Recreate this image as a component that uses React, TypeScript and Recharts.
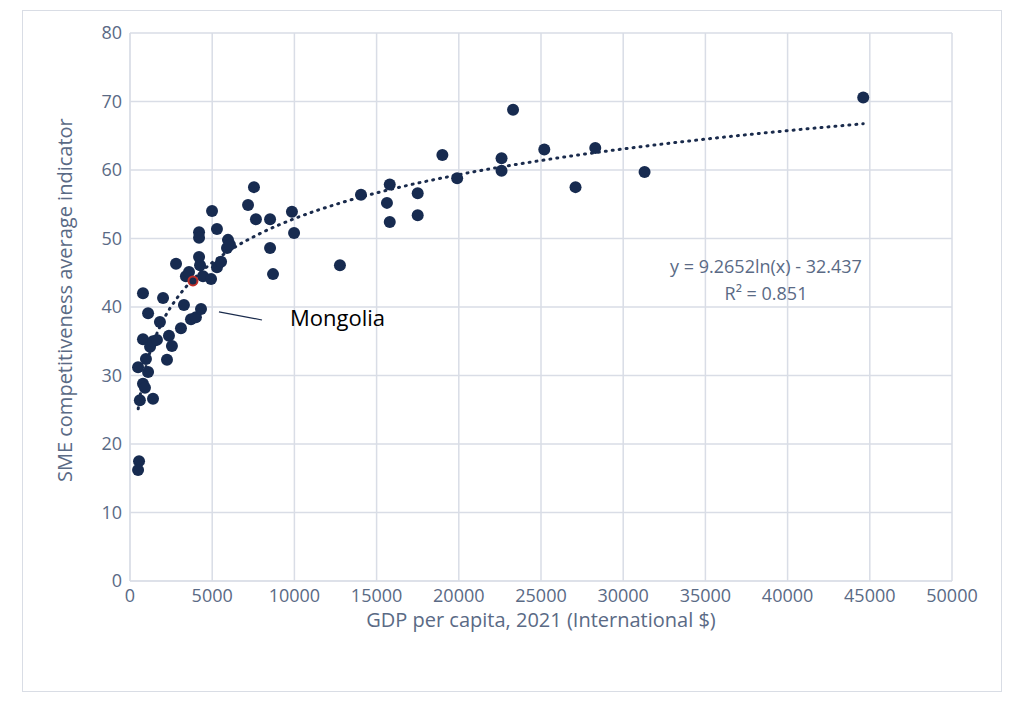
import React from 'react';
import { ComposedChart, Scatter, Line, XAxis, YAxis, CartesianGrid, ReferenceLine } from 'recharts';

const gdp = [550,490,490,600,790,790,790,910,970,1100,1100,1220,1400,1400,1640,1820,2010,2250,2370,2550,2800,3100,3280,3400,3590,3710,4010,4200,4200,4200,4260,4320,4440,4930,4990,5290,5290,5540,5900,5960,6080,7180,7540,7660,8520,8520,8700,9850,9980,12770,14050,15630,15800,15800,17500,17500,19000,19900,22600,22600,23300,25200,27100,28300,31300,44600];
const sme = [17.5,16.2,31.2,26.4,42.0,35.3,28.8,28.2,32.4,30.5,39.1,34.2,26.6,35.0,35.2,37.8,41.3,32.3,35.8,34.3,46.3,36.9,40.3,44.5,45.1,38.2,38.5,50.9,50.1,47.3,46.1,39.7,44.5,44.1,54.0,51.4,45.8,46.6,48.6,49.8,49.1,54.9,57.5,52.8,52.8,48.6,44.8,53.9,50.8,46.1,56.4,55.2,57.9,52.4,56.6,53.4,62.2,58.8,61.7,59.9,68.8,63.0,57.5,63.2,59.7,70.6];
const mongolia = [{ x: 3830, y: 43.8 }];
const trendX = [500,700,1000,1500,2000,3000,4000,5000,6000,8000,10000,13000,16000,20000,25000,30000,35000,40000,44600];
const xTicks = [0,5000,10000,15000,20000,25000,30000,35000,40000,45000,50000];
const yTicks = [0,10,20,30,40,50,60,70,80];

const points = gdp.map((x, i) => ({ x, y: sme[i] }));
const trend = trendX.map(x => ({ x, t: 9.2652 * Math.log(x) - 32.437 }));

const tick = { fill: '#5a6a85', fontSize: 18, fontFamily: 'Open Sans' };

export default function App() {
  return (
    <div style={{ position: 'relative', width: 1000, height: 690, fontFamily: 'Open Sans' }}>
      <div style={{ position: 'absolute', left: 14, top: 2, width: 978, height: 680, border: '1px solid #d9dde5' }} />
      <ComposedChart width={1000} height={680} margin={{ top: 25, right: 56, left: 22, bottom: 57 }} style={{ position: 'absolute', left: 0, top: 0 }}>
        <CartesianGrid stroke="#d9dde6" strokeWidth={1.5} />
        <XAxis type="number" dataKey="x" domain={[0, 50000]} ticks={xTicks} tick={tick} axisLine={{ stroke: '#d9dde6' }} tickLine={false} height={50}
          label={{ value: 'GDP per capita, 2021 (International $)', position: 'insideBottom', offset: 4, fill: '#5a6a85', fontSize: 20 }} />
        <YAxis type="number" domain={[0, 80]} ticks={yTicks} tick={tick} axisLine={{ stroke: '#d9dde6' }} tickLine={false} width={100}
          label={{ value: 'SME competitiveness average indicator', angle: -90, position: 'insideLeft', offset: 35, dy: 175, fill: '#5a6a85', fontSize: 20 }} />
        <Line data={trend} dataKey="t" type="monotone" stroke="#1a2b4c" strokeWidth={3} strokeDasharray="1 6" strokeLinecap="round" dot={false} isAnimationActive={false} />
        <Scatter data={points} dataKey="y" fill="#172b50" shape={(p: any) => <circle cx={p.cx} cy={p.cy} r={6} fill="#172b50" />} isAnimationActive={false} />
        <Scatter data={mongolia} dataKey="y" shape={(p: any) => <circle cx={p.cx} cy={p.cy} r={4.5} fill="#1a2b4c" stroke="#c0302a" strokeWidth={2} />} isAnimationActive={false} />
        <ReferenceLine segment={[{ x: 5410, y: 39.3 }, { x: 8030, y: 38.1 }]} stroke="#1a2b4c" strokeWidth={1.2} />
      </ComposedChart>
      <div style={{ position: 'absolute', left: 282, top: 294, fontSize: 22, color: '#000' }}>Mongolia</div>
      <div style={{ position: 'absolute', left: 636, top: 245, width: 244, textAlign: 'center', fontSize: 18, color: '#5a6a85', lineHeight: '27px' }}>
        y = 9.2652ln(x) - 32.437<br />R² = 0.851
      </div>
    </div>
  );
}
